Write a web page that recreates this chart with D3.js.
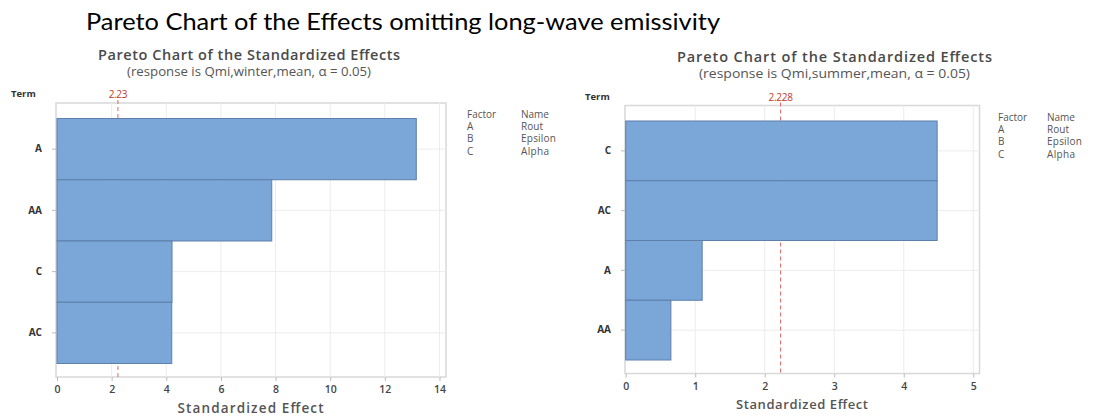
<!DOCTYPE html>
<html>
<head>
<meta charset="utf-8">
<script src="https://cdn.jsdelivr.net/npm/d3@7"></script>
<style>
  html, body { margin: 0; padding: 0; background: #fff; }
  svg { display: block; }
</style>
</head>
<body>
<svg id="chart" width="1120" height="417"></svg>
<script>
// Standardized effects, winter response
const termsWinter = ["A", "AA", "C", "AC"];
const effectsWinter = [13.15, 7.86, 4.21, 4.20];
const critWinter = 2.23;
const critWinterLabel = "2.23";
const ticksWinter = [0, 2, 4, 6, 8, 10, 12, 14];

// Standardized effects, summer response
const termsSummer = ["C", "AC", "A", "AA"];
const effectsSummer = [4.48, 4.48, 1.10, 0.65];
const critSummer = 2.228;
const critSummerLabel = "2.228";
const ticksSummer = [0, 1, 2, 3, 4, 5];

// Factor legend
const factorCodes = ["A", "B", "C"];
const factorNames = ["Rout", "Epsilon", "Alpha"];

const svg = d3.select("#chart");
const FONT = "'Open Sans', 'DejaVu Sans', sans-serif";

svg.append("text")
  .attr("x", 86).attr("y", 30)
  .attr("font-family", "Lato, 'Open Sans', sans-serif")
  .attr("font-size", 24)
  .attr("fill", "#000")
  .attr("textLength", 634)
  .attr("lengthAdjust", "spacingAndGlyphs")
  .text("Pareto Chart of the Effects omitting long-wave emissivity");

function pareto(cfg) {
  const g = svg.append("g");
  const x = d3.scaleLinear().domain([0, cfg.xMax]).range([cfg.x0, cfg.x1]);
  const y = d3.scaleBand().domain(cfg.terms).range([cfg.barTop, cfg.barBottom]).padding(0);

  // titles
  g.append("text")
    .attr("x", cfg.cx).attr("y", cfg.titleY)
    .attr("text-anchor", "middle")
    .attr("font-family", FONT).attr("font-weight", 600)
    .attr("font-size", cfg.titleSize).attr("fill", "#4a4a4a")
    .attr("textLength", cfg.titleLen).attr("lengthAdjust", "spacing")
    .text("Pareto Chart of the Standardized Effects");
  g.append("text")
    .attr("x", cfg.cx).attr("y", cfg.subY)
    .attr("text-anchor", "middle")
    .attr("font-family", FONT)
    .attr("font-size", 13).attr("fill", "#555")
    .attr("textLength", cfg.subLen).attr("lengthAdjust", "spacingAndGlyphs")
    .text(cfg.subtitle);

  // frame
  g.append("rect")
    .attr("x", cfg.frameL).attr("y", cfg.frameT)
    .attr("width", cfg.frameR - cfg.frameL).attr("height", cfg.frameB - cfg.frameT)
    .attr("fill", "none").attr("stroke", "#d8d8d8").attr("stroke-width", 1.5);

  // gridlines
  g.selectAll(".vgrid").data(cfg.ticks.filter(t => t > 0))
    .join("line")
    .attr("x1", d => x(d)).attr("x2", d => x(d))
    .attr("y1", cfg.frameT).attr("y2", cfg.frameB)
    .attr("stroke", "#ececec").attr("stroke-width", 1);
  g.selectAll(".hgrid").data(cfg.terms)
    .join("line")
    .attr("x1", cfg.frameL).attr("x2", cfg.frameR)
    .attr("y1", d => y(d) + y.bandwidth() / 2).attr("y2", d => y(d) + y.bandwidth() / 2)
    .attr("stroke", "#ececec").attr("stroke-width", 1);

  // reference line (drawn beneath the bars)
  g.append("line")
    .attr("x1", x(cfg.crit)).attr("x2", x(cfg.crit))
    .attr("y1", cfg.frameT - 3).attr("y2", cfg.frameB)
    .attr("stroke", "#e06666").attr("stroke-width", 1)
    .attr("stroke-dasharray", "4,3");
  g.append("text")
    .attr("x", x(cfg.crit)).attr("y", cfg.frameT - 5)
    .attr("text-anchor", "middle")
    .attr("font-family", FONT).attr("font-size", 10)
    .attr("fill", "#c0392b").attr("letter-spacing", -0.3)
    .text(cfg.critLabel);

  // bars
  g.selectAll(".bar").data(cfg.terms.map((t, i) => ({ t, v: cfg.effects[i] })))
    .join("rect")
    .attr("x", x(0)).attr("y", d => y(d.t))
    .attr("width", d => x(d.v) - x(0)).attr("height", y.bandwidth())
    .attr("fill", "#7ba6d8").attr("stroke", "#5d7fa9").attr("stroke-width", 1);

  // x axis
  const xa = g.append("g").attr("transform", `translate(0,${cfg.frameB})`)
    .call(d3.axisBottom(x).tickValues(cfg.ticks).tickSize(4).tickFormat(d3.format("d")));
  xa.select(".domain").remove();
  xa.selectAll("line").attr("stroke", "#bbb");
  xa.selectAll("text").attr("font-family", FONT).attr("font-size", 10.5)
    .attr("font-weight", 600).attr("fill", "#444").attr("dy", "0.9em");

  // y axis
  const ya = g.append("g").attr("transform", `translate(${cfg.frameL},0)`)
    .call(d3.axisLeft(y).tickSize(4).tickPadding(10));
  ya.select(".domain").remove();
  ya.selectAll("line").attr("stroke", "#bbb");
  ya.selectAll("text").attr("font-family", FONT).attr("font-size", 10)
    .attr("font-weight", 700).attr("fill", "#333");

  g.append("text")
    .attr("x", cfg.termX).attr("y", cfg.termY)
    .attr("font-family", FONT).attr("font-size", 9.5)
    .attr("font-weight", 700).attr("fill", "#333")
    .text("Term");

  g.append("text")
    .attr("x", cfg.axisTitleX).attr("y", cfg.axisTitleY)
    .attr("text-anchor", "middle")
    .attr("font-family", FONT).attr("font-weight", 600)
    .attr("font-size", cfg.axisTitleSize).attr("fill", "#555")
    .attr("textLength", cfg.axisTitleLen).attr("lengthAdjust", "spacing")
    .text("Standardized Effect");

  // legend
  const lg = g.append("g").attr("font-family", FONT).attr("font-size", 10).attr("fill", "#555");
  lg.append("text").attr("x", cfg.legX).attr("y", cfg.legY).text("Factor");
  lg.append("text").attr("x", cfg.legX2).attr("y", cfg.legY).text("Name");
  lg.selectAll(".code").data(factorCodes).join("text")
    .attr("x", cfg.legX).attr("y", (d, i) => cfg.legY + (i + 1) * 12.2).text(d => d);
  lg.selectAll(".name").data(factorNames).join("text")
    .attr("x", cfg.legX2).attr("y", (d, i) => cfg.legY + (i + 1) * 12.2)
    .attr("textLength", (d, i) => cfg.nameLens[i]).attr("lengthAdjust", "spacing")
    .text(d => d);
}

pareto({
  terms: termsWinter, effects: effectsWinter, crit: critWinter, critLabel: critWinterLabel,
  ticks: ticksWinter, xMax: 14,
  x0: 57, x1: 439.5,
  frameL: 56, frameR: 446, frameT: 103, frameB: 377,
  barTop: 118.5, barBottom: 363.5,
  cx: 249, titleY: 60, titleSize: 14.5, titleLen: 302, subY: 76, subLen: 244,
  subtitle: "(response is Qmi,winter,mean, \u03b1 = 0.05)",
  termX: 11, termY: 97,
  axisTitleX: 250.5, axisTitleY: 413, axisTitleSize: 13.5, axisTitleLen: 146,
  legX: 467, legX2: 521, legY: 118, nameLens: [22, 35, 28]
});

pareto({
  terms: termsSummer, effects: effectsSummer, crit: critSummer, critLabel: critSummerLabel,
  ticks: ticksSummer, xMax: 5,
  x0: 625.7, x1: 973.3,
  frameL: 625, frameR: 979.5, frameT: 105.5, frameB: 373.5,
  barTop: 121, barBottom: 360,
  cx: 834.5, titleY: 62, titleSize: 14.5, titleLen: 315, subY: 78, subLen: 271,
  subtitle: "(response is Qmi,summer,mean, \u03b1 = 0.05)",
  termX: 585, termY: 100,
  axisTitleX: 802, axisTitleY: 409, axisTitleSize: 13, axisTitleLen: 132,
  legX: 998, legX2: 1047, legY: 121, nameLens: [22, 35, 28]
});
</script>
</body>
</html>
